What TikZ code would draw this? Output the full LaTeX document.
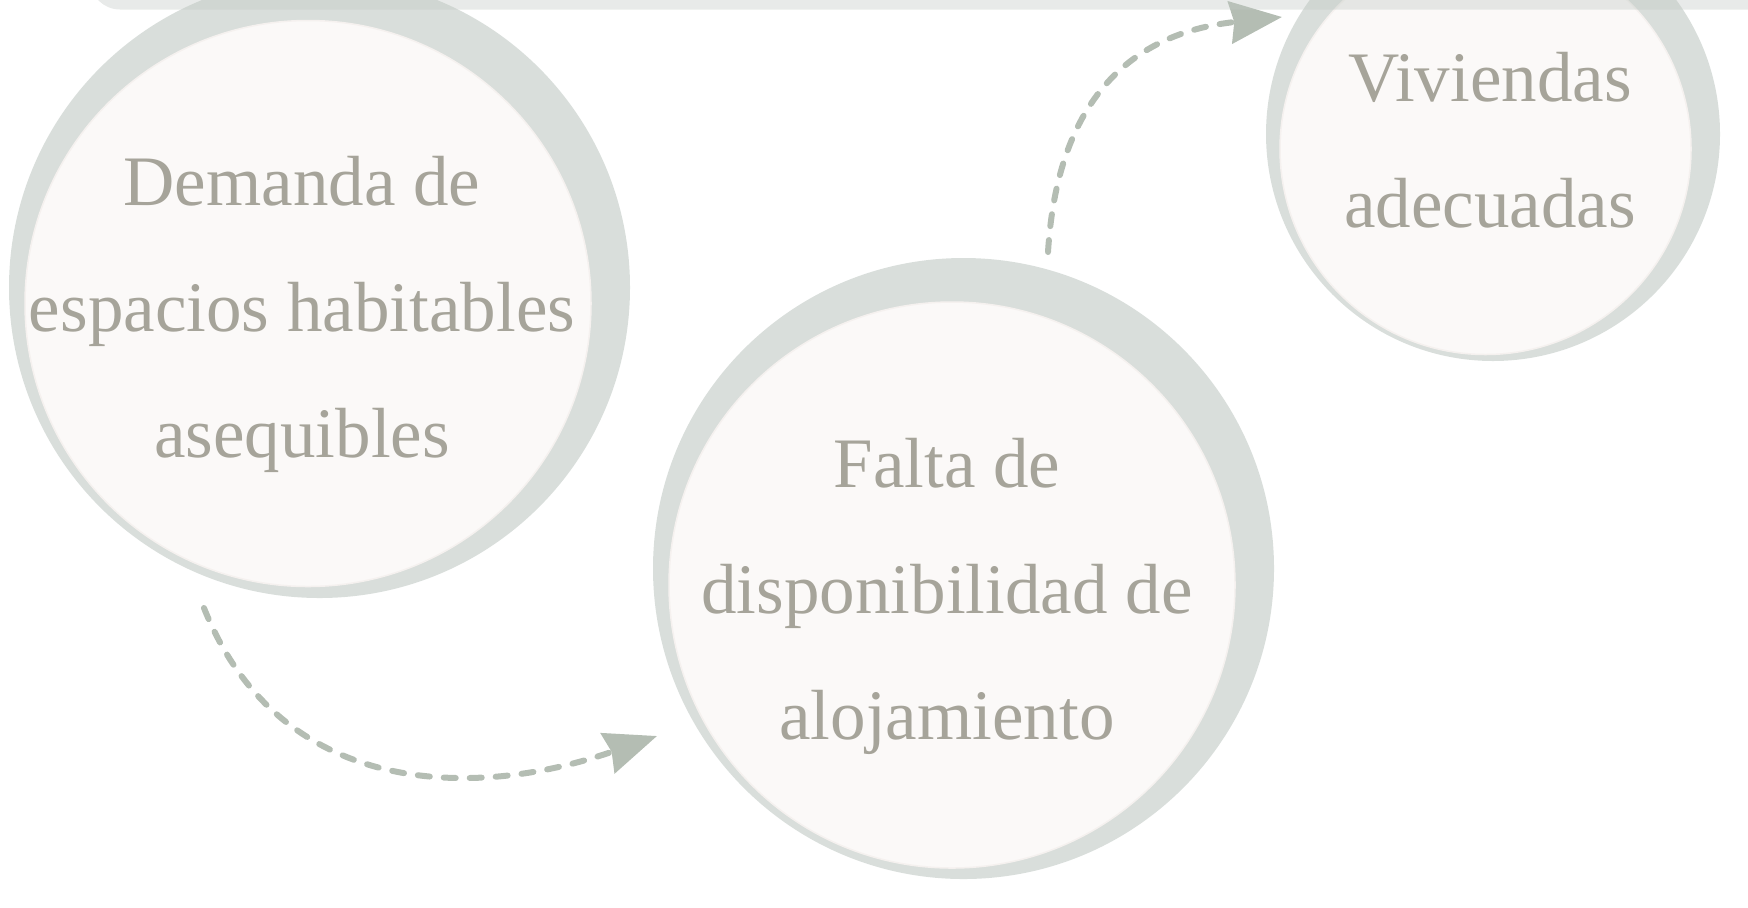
\documentclass[tikz,border=0pt]{standalone}
\usepackage{fontspec}
\setmainfont{Liberation Serif}
\usepackage{tikz}
\usetikzlibrary{positioning,arrows.meta}
\definecolor{ringgray}{HTML}{D9DEDB}
\definecolor{discwhite}{HTML}{FBF9F8}
\definecolor{discedge}{HTML}{F5F1EF}
\definecolor{textgray}{HTML}{A6A49A}
\definecolor{arrowgray}{HTML}{B4BDB3}
\definecolor{bandgray}{HTML}{C2C9C4}

\begin{document}
\begin{tikzpicture}[x=0.5pt, y=-0.5pt,
        ring/.style={circle, fill=ringgray, inner sep=0pt},
        disc/.style={circle, fill=discwhite, draw=discedge, line width=0.75pt, inner sep=0pt},
        caption/.style={text=textgray, align=center, font=\fontsize{35.5pt}{63pt}\selectfont},
        flow/.style={draw=arrowgray, line width=3pt, line cap=round, dash pattern=on 6pt off 7pt,
            -{Stealth[length=26pt, width=21pt, inset=2pt]}}]
        \useasboundingbox (0,0) rectangle (1748,907);
        % circles
        \node[ring, minimum size=310.5pt] (demandaring) at (319.5,287.5) {};
        \node[disc, minimum size=283pt] (demanda) at (308,303.5) {};
        \node[ring, minimum size=310.5pt] (faltaring) at (963.5,568.5) {};
        \node[disc, minimum size=283pt] (falta) at (952,585) {};
        \node[ring, minimum size=227pt] (viviendasring) at (1493,134) {};
        \node[disc, minimum size=205.5pt] (viviendas) at (1485.5,149) {};
        % texts
        \node[caption] (demandatext) at (302,314) {Demanda de\\espacios habitables\\asequibles};
        \node[caption] (faltatext) at (947,596) {Falta de\\disponibilidad de\\alojamiento};
        \node[caption] (viviendastext) at (1490,140) {Viviendas\\adecuadas};
        % arrows
        \coordinate (fromdemanda) at (204,608);
        \coordinate (tofalta) at (657,736);
        \coordinate (fromfalta) at (1048,252);
        \coordinate (toviviendas) at (1282,17);
        \draw[flow] (fromdemanda) .. controls (278,794) and (468,802) .. (tofalta);
        \draw[flow] (fromfalta) .. controls (1058,90) and (1140,32) .. (toviviendas);
        % top band
        \fill[bandgray, fill opacity=0.38, rounded corners=15pt] (90,-80) rectangle (1800,9.5);
    \end{tikzpicture}
\end{document}
